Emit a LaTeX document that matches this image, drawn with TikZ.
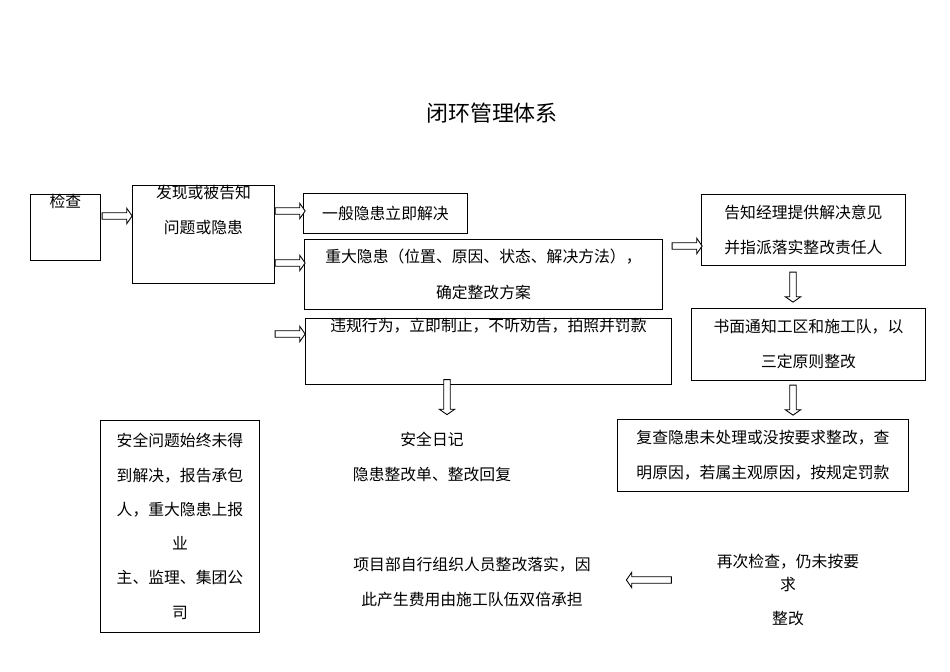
\documentclass[tikz,border=0pt]{standalone}
\usepackage{fontspec}
\setmainfont{Noto Sans CJK SC}
\usetikzlibrary{shapes.arrows}
\tikzset{
  box/.style={draw, line width=0.5pt, inner sep=0pt, align=center, font=\fontsize{9}{20}\selectfont},
  txt/.style={align=center, font=\fontsize{9}{20}\selectfont},
  blk/.style={single arrow, draw, line width=0.5pt, fill=white, minimum height=#1, single arrow head extend=2.5pt, single arrow tip angle=110, inner sep=1.6pt},
  blk/.default={0.6cm}
}
\begin{document}
\begin{tikzpicture}[x=0.02cm, y=-0.02cm]
\useasboundingbox (0,0) rectangle (950,672);
\node[font=\fontsize{12.5}{14}\selectfont] (title) at (492,113) {闭环管理体系};
% boxes
\node[box, minimum width=70*0.02cm, minimum height=53*0.02cm, anchor=north west] (check) at (30,194) {检查\\[10pt]};
\node[box, minimum width=142*0.02cm, minimum height=88*0.02cm, anchor=north west] (find) at (132,185) {发现或被告知\\问题或隐患\\[8pt]};
\node[box, minimum width=164*0.02cm, minimum height=40*0.02cm, anchor=north west] (minor) at (303,193) {一般隐患立即解决};
\node[box, minimum width=358*0.02cm, minimum height=70*0.02cm, anchor=north west] (major) at (304,239) {重大隐患（位置、原因、状态、解决方法），\\确定整改方案};
\node[box, minimum width=366*0.02cm, minimum height=53*0.02cm, anchor=north west] (viol) at (305,318) {违规行为，立即制止，不听劝告，拍照并罚款\\[10pt]};
\node[box, minimum width=204*0.02cm, minimum height=71*0.02cm, anchor=north west] (mgr) at (701,194) {告知经理提供解决意见\\并指派落实整改责任人};
\node[box, minimum width=234*0.02cm, minimum height=72*0.02cm, anchor=north west] (notice) at (691,308) {书面通知工区和施工队，以\\三定原则整改};
\node[box, minimum width=291*0.02cm, minimum height=72*0.02cm, anchor=north west] (recheck) at (617,419) {复查隐患未处理或没按要求整改，查\\明原因，若属主观原因，按规定罚款};
\node[box, minimum width=159*0.02cm, minimum height=212*0.02cm, anchor=north west, font=\fontsize{9}{19.5}\selectfont] (report) at (100,420) {安全问题始终未得\\到解决，报告承包\\人，重大隐患上报\\业\\主、监理、集团公\\司};
% plain texts
\node[txt] (diary) at (432,457) {安全日记\\隐患整改单、整改回复};
\node[txt] (self) at (472,582) {项目部自行组织人员整改落实，因\\此产生费用由施工队伍双倍承担};
\node[txt, font=\fontsize{9}{13}\selectfont] (again) at (788,573) {再次检查，仍未按要\\求};
\node[txt] (again2) at (788,619) {整改};
% block arrows
\node[blk] (a1) at (116,216) {};
\node[blk] (a2) at (289,211) {};
\node[blk] (a3) at (289,263) {};
\node[blk] (a4) at (289,334) {};
\node[blk] (a5) at (686,246) {};
\node[blk, shape border rotate=270] (a6) at (793,286) {};
\node[blk, shape border rotate=270] (a7) at (793,399) {};
\node[blk, shape border rotate=270, minimum height=0.7cm] (a8) at (447,396) {};
\node[blk=0.9cm, shape border rotate=180] (a9) at (650,580) {};
\end{tikzpicture}
\end{document}
